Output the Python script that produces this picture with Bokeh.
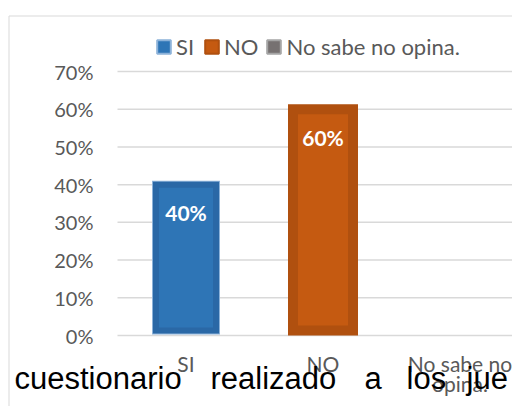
from bokeh.plotting import figure
from bokeh.models import (ColumnDataSource, Range1d, Legend, LegendItem, LabelSet, Label,
                          CDSView, BooleanFilter)
from bokeh.core.properties import value
from bokeh.embed import file_html
from bokeh.resources import INLINE

# ---- data ----
categories = ["SI", "NO", "No sabe no opina."]
tick_labels = ["SI", "NO", "No sabe no\nopina."]
values = [0.40, 0.60, 0.0]
y_ticks = [0.0, 0.1, 0.2, 0.3, 0.4, 0.5, 0.6, 0.7]
y_tick_labels = ["0%", "10%", "20%", "30%", "40%", "50%", "60%", "70%"]
fill_colors = ["#2E75B6", "#C55A11", "#767171"]
band_colors = ["#2A68A6", "#B0500F", "#767171"]
edge_colors = ["#8CB2D9", "#B0500F", "#A5A5A5"]
overlay_words = ["cuestionario", "realizado", "a", "los", "jue"]

# ---- layout constants (pixels) ----
W, H = 512, 406
PX_X = 137.0                 # pixels per category
PLOT_LEFT = 117              # canvas x of the plot area's left edge
PLOT_TOP, PLOT_BOTTOM = 71, 335
PX_Y = (PLOT_BOTTOM - PLOT_TOP) / 0.7
FONT = "Lato"
GRAY = "#595959"

x0 = -PLOT_LEFT / PX_X
x1 = x0 + W / PX_X
y1 = 0.7 + PLOT_TOP / PX_Y
y0 = y1 - H / PX_Y

p = figure(width=W, height=H, output_backend="svg", toolbar_location=None,
           x_axis_location=None, y_axis_location=None,
           x_range=Range1d(x0, x1), y_range=Range1d(y0, y1),
           min_border=0)
p.outline_line_color = None
p.grid.visible = False
p.background_fill_color = "white"
p.border_fill_color = "white"

# chart border (top and left)
bx = x0 + 8.5 / PX_X
by = y1 - 15.5 / PX_Y
p.segment(x0=[bx, bx], y0=[by, by], x1=[x1, bx], y1=[by, y0], line_color="#d9d9d9", line_width=1)

# gridlines across the plot area
n = len(categories)
p.segment(x0=[0] * len(y_ticks), y0=y_ticks, x1=[n] * len(y_ticks), y1=y_ticks,
          line_color="#d9d9d9", line_width=1.5)

# bars
xs = [i + 0.5 for i in range(n)]
src = ColumnDataSource(dict(x=xs, top=values, fill=fill_colors, band=band_colors,
                            edge=edge_colors, bw=[6, 10, 6]))
nonzero = CDSView(filter=BooleanFilter([v > 0 for v in values]))
bar_w = 60 / PX_X
base = 5 / PX_Y   # keeps the outline above the zero line
p.vbar(x="x", top="top", bottom=base, width=bar_w, source=src, view=nonzero,
       fill_color=None, line_color="edge", line_width=8, line_join="miter")
p.vbar(x="x", top="top", bottom=base, width=bar_w, source=src, view=nonzero,
       fill_color="fill", line_color="band", line_width="bw", line_join="miter")

# data labels
lab_src = ColumnDataSource(dict(x=[x for x, v in zip(xs, values) if v > 0],
                                y=[v for v in values if v > 0],
                                t=[f"{round(v * 100)}%" for v in values if v > 0]))
p.add_layout(LabelSet(x="x", y="y", text="t", source=lab_src, y_offset=-28,
                      text_align="center", text_baseline="middle",
                      text_color="white", text_font=value(FONT), text_font_style="bold",
                      text_font_size="21px"))

# value axis labels
p.text(x=[0] * len(y_ticks), y=y_ticks, text=y_tick_labels, x_offset=-24,
       text_align="right", text_baseline="middle", text_color=GRAY,
       text_font=value(FONT), text_font_size="20px")

# category axis labels, one text row per wrapped line (line spacing 20 px)
split = [t.split("\n") for t in tick_labels]
max_lines = max(len(s) for s in split)
for li in range(max_lines):
    lx = [x for x, s in zip(xs, split) if len(s) > li]
    lt = [s[li] for s in split if len(s) > li]
    p.text(x=lx, y=[0] * len(lx), text=lt, y_offset=28 + 20 * li, text_align="center",
           text_baseline="middle", text_color=GRAY, text_font=value(FONT),
           text_font_size="21px")

# legend (hidden renderer only supplies the swatches)
leg_r = p.vbar(x="x", top="top", width=bar_w, source=src,
               fill_color="fill", line_color="edge", line_width=2)
leg_r.visible = False
items = [LegendItem(label=c, renderers=[leg_r], index=i) for i, c in enumerate(categories)]
legend = Legend(items=items, orientation="horizontal", location=(155, 346),
                label_text_font=FONT, label_text_font_size="22px", label_text_color=GRAY,
                glyph_width=17, glyph_height=17, label_standoff=4, spacing=7,
                padding=0, margin=0, label_height=20,
                background_fill_alpha=0, border_line_color=None)
p.add_layout(legend)

# overlay text from the surrounding document
word_x = [14, 210, 364, 406, 466]
for w, x in zip(overlay_words, word_x):
    p.add_layout(Label(x=x, y=28, x_units="screen", y_units="screen", text=w,
                       text_font="Liberation Sans", text_font_size="31px",
                       text_color="black", text_baseline="alphabetic", text_align="left"))

open("out.html", "w").write(file_html(p, INLINE))
